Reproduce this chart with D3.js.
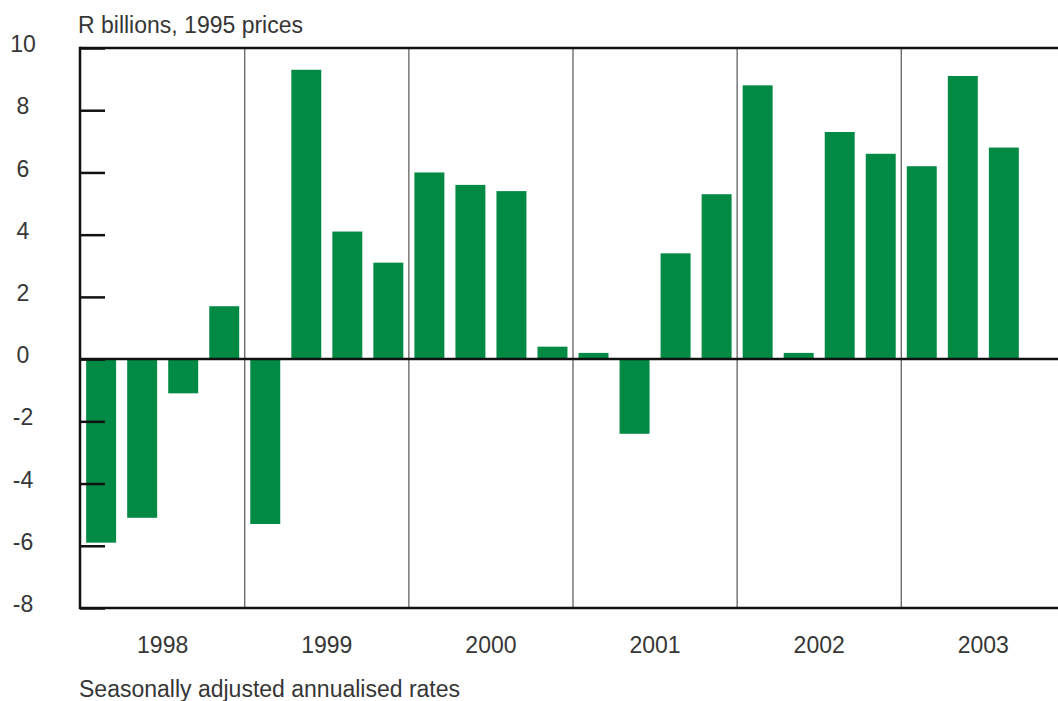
<!DOCTYPE html>
<html>
<head>
<meta charset="utf-8">
<script src="https://cdn.jsdelivr.net/npm/d3@7"></script>
<style>
  html, body { margin: 0; padding: 0; background: #fff; overflow: hidden; }
  svg text { font-family: "Liberation Sans", Arial, sans-serif; fill: #363636; }
</style>
</head>
<body>
<svg id="chart" width="1058" height="701"></svg>
<script>
// quarterly values, R billions at 1995 prices (2003 Q4 not yet available)
const years = ["1998", "1999", "2000", "2001", "2002", "2003"];
const quarters = ["Q1", "Q2", "Q3", "Q4"];
const values = [
  -5.9, -5.1, -1.1, 1.7,   // 1998
  -5.3, 9.3, 4.1, 3.1,     // 1999
  6.0, 5.6, 5.4, 0.4,      // 2000
  0.2, -2.4, 3.4, 5.3,     // 2001
  8.8, 0.2, 7.3, 6.6,      // 2002
  6.2, 9.1, 6.8, null      // 2003
];
const yTicks = [-8, -6, -4, -2, 0, 2, 4, 6, 8, 10];

const svg = d3.select("#chart");
const plotLeft = 80, plotTop = 48, plotBottom = 608, plotRight = 1058;
const green = "#008a43";

// one band per quarter
let periods = [];
years.forEach(y => quarters.forEach(q => periods.push(y + q)));

const x = d3.scaleBand()
  .domain(periods)
  .range([plotLeft, 1066])
  .paddingInner(0.27)
  .paddingOuter(0.15);

const y = d3.scaleLinear()
  .domain([-8, 10])
  .range([plotBottom, plotTop]);

// year separators (vertical thin lines between Q4 and next Q1)
const gap = x.step() * x.paddingInner() / 2;
for (let i = 1; i < years.length; i++) {
  let sx = x(years[i] + "Q1") - gap;
  svg.append("line")
    .attr("x1", sx).attr("x2", sx)
    .attr("y1", plotTop).attr("y2", plotBottom)
    .attr("stroke", "#555")
    .attr("stroke-width", 1.2);
}

// bars
svg.append("g").selectAll("rect")
  .data(values.map((v, i) => ({ p: periods[i], v: v })).filter(d => d.v !== null))
  .join("rect")
  .attr("x", d => x(d.p))
  .attr("width", x.bandwidth())
  .attr("y", d => y(Math.max(0, d.v)))
  .attr("height", d => Math.abs(y(d.v) - y(0)))
  .attr("fill", green);

// frame: top, bottom, zero line, left axis
[plotTop, plotBottom, y(0)].forEach(yy => {
  svg.append("line")
    .attr("x1", plotLeft).attr("x2", plotRight)
    .attr("y1", yy).attr("y2", yy)
    .attr("stroke", "#111")
    .attr("stroke-width", 2.5);
});
svg.append("line")
  .attr("x1", plotLeft).attr("x2", plotLeft)
  .attr("y1", plotTop - 1.2).attr("y2", plotBottom + 1.2)
  .attr("stroke", "#111")
  .attr("stroke-width", 2.5);

// left axis ticks (drawn inward) and labels
const yAxis = d3.axisRight(y)
  .tickValues(yTicks)
  .tickSize(25)
  .tickFormat("");
const gy = svg.append("g")
  .attr("transform", `translate(${plotLeft},0)`)
  .call(yAxis);
gy.select(".domain").remove();
gy.selectAll(".tick line").attr("stroke", "#111").attr("stroke-width", 2.5);

svg.append("g").selectAll("text")
  .data(yTicks)
  .join("text")
  .attr("x", 23)
  .attr("y", d => y(d) - 2)
  .attr("text-anchor", "middle")
  .attr("dominant-baseline", "middle")
  .attr("font-size", 23)
  .text(d => d);

// year labels centred under each year's four quarters
svg.append("g").selectAll("text")
  .data(years)
  .join("text")
  .attr("x", yr => (x(yr + "Q1") + x(yr + "Q4") + x.bandwidth()) / 2)
  .attr("y", 653)
  .attr("text-anchor", "middle")
  .attr("font-size", 23)
  .text(yr => yr);

svg.append("text")
  .attr("x", 78)
  .attr("y", 33)
  .attr("font-size", 23)
  .text("R billions, 1995 prices");

svg.append("text")
  .attr("x", 79)
  .attr("y", 697)
  .attr("font-size", 23)
  .text("Seasonally adjusted annualised rates");
</script>
</body>
</html>
